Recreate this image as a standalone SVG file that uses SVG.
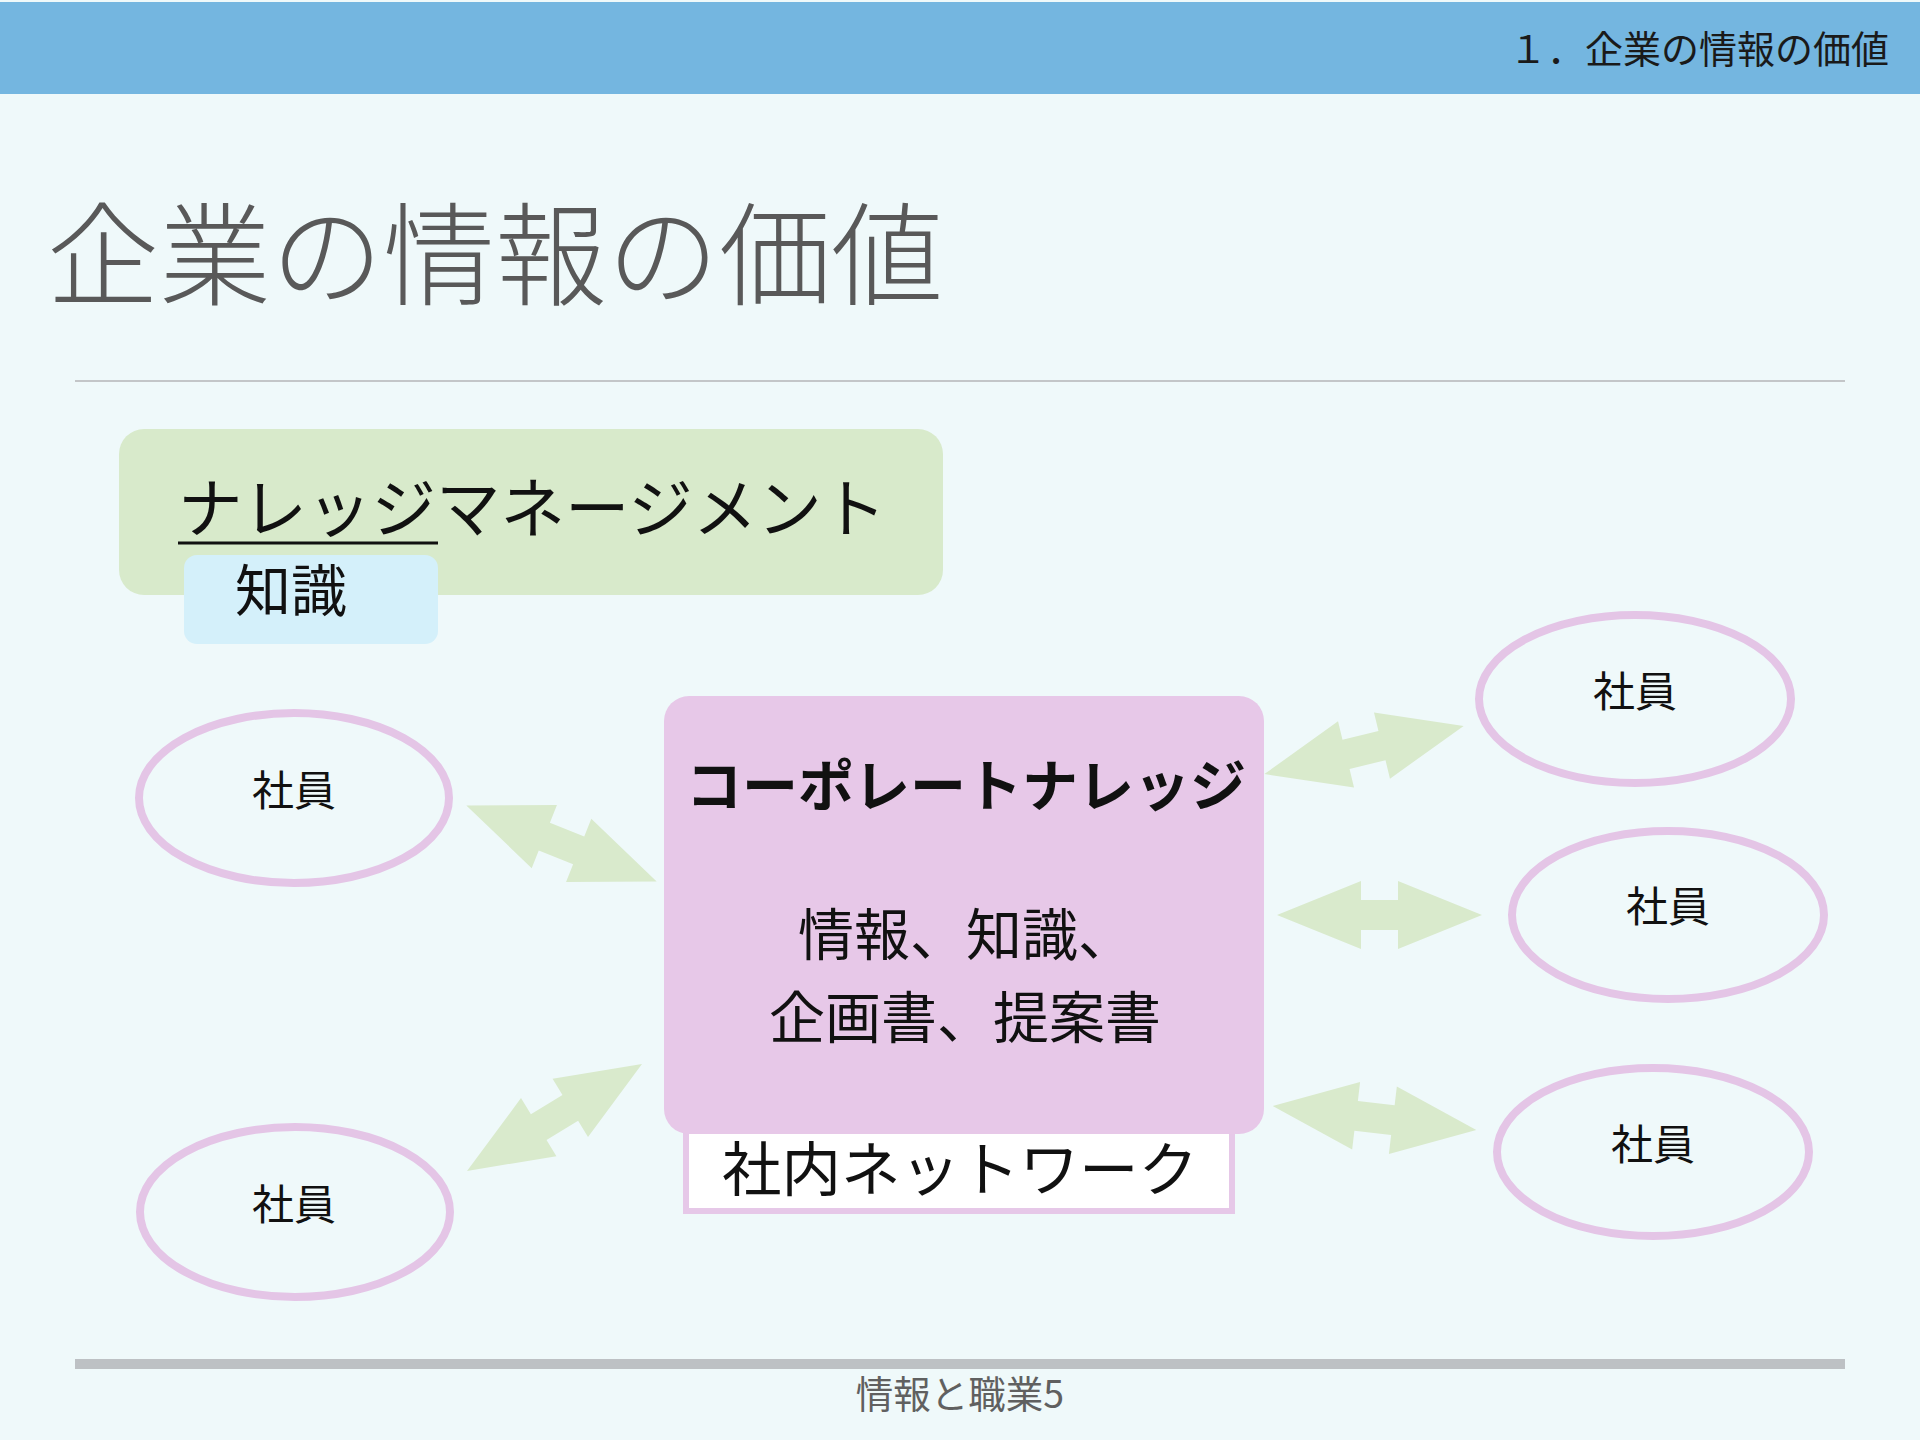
<svg xmlns="http://www.w3.org/2000/svg" width="1920" height="1440" viewBox="0 0 1920 1440">
<defs>
<style>
.jp{font-family:"Noto Sans CJK JP","Noto Sans CJK SC",sans-serif;}
.emp{fill:none;stroke:#E4C5E6;stroke-width:8;}
.emptxt{font-size:42px;fill:#111;text-anchor:middle;}
.arr{fill:#D9EACC;}
</style>
<path id="dblarrow" d="M-102.5,0 L-18.5,-34 L-18.5,-15 L18.5,-15 L18.5,-34 L102.5,0 L18.5,34 L18.5,15 L-18.5,15 L-18.5,34 Z"/>
</defs>
<rect x="0" y="0" width="1920" height="1440" fill="#EFF9FA"/>
<g id="header">
<rect x="0" y="2" width="1920" height="92" fill="#74B6E0"/>
<text class="jp" x="1889" y="63" font-size="38" fill="#1a1a1a" text-anchor="end">１．企業の情報の価値</text>
</g>
<g id="title">
<text class="jp" x="47" y="297" font-size="112" font-weight="300" fill="#595959">企業の情報の価値</text>
<line x1="75" y1="381" x2="1845" y2="381" stroke="#C3C6C8" stroke-width="2"/>
</g>
<g id="knowledge-management">
<rect x="119" y="429" width="824" height="166" rx="25" fill="#D8EACB"/>
<text class="jp" x="178" y="532" font-size="64.5" fill="#111">ナレッジマネージメント</text>
<line x1="178" y1="543" x2="438" y2="543" stroke="#111" stroke-width="3"/>
</g>
<g id="chishiki">
<rect x="184" y="555" width="254" height="89" rx="13" fill="#D4F0FA"/>
<text class="jp" x="235" y="611" font-size="56" fill="#111">知識</text>
</g>
<g id="connectors">
<use href="#dblarrow" class="arr" transform="translate(561.5,843.5) rotate(21.8)"/>
<use href="#dblarrow" class="arr" transform="translate(554.5,1117.5) rotate(-31.4)"/>
<use href="#dblarrow" class="arr" transform="translate(1364,750) rotate(-13.6)"/>
<use href="#dblarrow" class="arr" transform="translate(1379.5,915)"/>
<use href="#dblarrow" class="arr" transform="translate(1374.5,1118) rotate(6.7)"/>
</g>
<g id="network">
<rect x="686" y="1110" width="546" height="101" fill="#FFFFFF" stroke="#E6C8E8" stroke-width="6"/>
<text class="jp" x="722" y="1191" font-size="59.5" fill="#111">社内ネットワーク</text>
</g>
<g id="corporate-knowledge">
<rect x="664" y="696" width="600" height="438" rx="25" fill="#E7C8E8"/>
<text class="jp" x="966" y="806" font-size="56" font-weight="bold" fill="#111" text-anchor="middle">コーポレートナレッジ</text>
<text class="jp" x="798" y="955" font-size="56" fill="#111">情報、知識、</text>
<text class="jp" x="769" y="1038" font-size="56" fill="#111">企画書、提案書</text>
</g>
<g id="employee-tl">
<ellipse class="emp" cx="294" cy="798" rx="155" ry="85"/>
<text class="jp emptxt" x="294" y="806">社員</text>
</g>
<g id="employee-bl">
<ellipse class="emp" cx="295" cy="1212" rx="155" ry="85"/>
<text class="jp emptxt" x="294" y="1220">社員</text>
</g>
<g id="employee-r1">
<ellipse class="emp" cx="1635" cy="699" rx="156" ry="84"/>
<text class="jp emptxt" x="1635" y="707">社員</text>
</g>
<g id="employee-r2">
<ellipse class="emp" cx="1668" cy="915" rx="156" ry="84"/>
<text class="jp emptxt" x="1668" y="922">社員</text>
</g>
<g id="employee-r3">
<ellipse class="emp" cx="1653" cy="1152" rx="156" ry="84"/>
<text class="jp emptxt" x="1653" y="1160">社員</text>
</g>
<g id="footer">
<rect x="75" y="1359" width="1770" height="10" fill="#BDC1C4"/>
<text class="jp" x="960" y="1408" font-size="37.5" fill="#606060" text-anchor="middle">情報と職業5</text>
</g>
</svg>
